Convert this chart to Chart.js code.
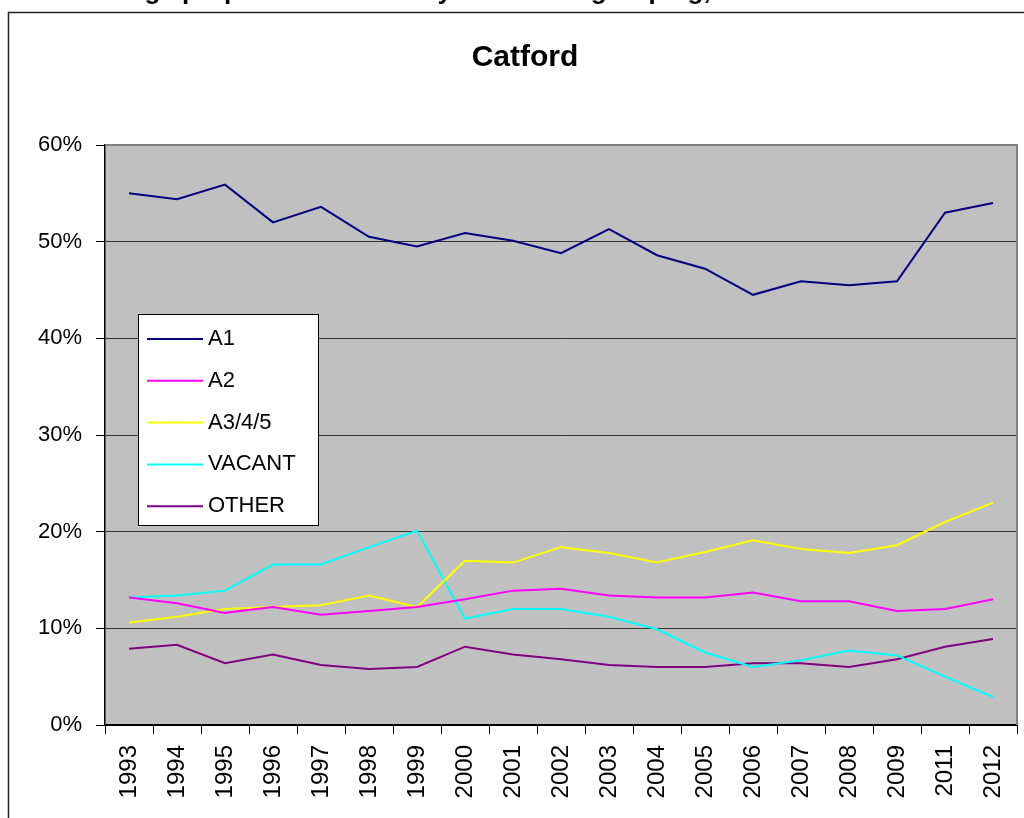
<!DOCTYPE html>
<html>
<head>
<meta charset="utf-8">
<title>Catford</title>
<script src="https://cdn.jsdelivr.net/npm/chart.js@4.4.1/dist/chart.umd.min.js"></script>
<style>
  html, body { margin: 0; padding: 0; background: #fff; }
  #chart { display: block; }
</style>
</head>
<body>
<canvas id="chart" width="1024" height="818"></canvas>
<script>
// ---- data (percent of units) ----
const years = ['1993', '1994', '1995', '1996', '1997', '1998', '1999', '2000', '2001', '2002',
  '2003', '2004', '2005', '2006', '2007', '2008', '2009', '2011', '2012'];

const a1 = [55.0, 54.4, 55.9, 52.0, 53.6, 50.5, 49.5, 50.9, 50.1, 48.8,
  51.3, 48.6, 47.2, 44.5, 45.9, 45.5, 45.9, 53.0, 54.0];
const a2 = [13.2, 12.6, 11.6, 12.2, 11.4, 11.8, 12.2, 13.0, 13.9, 14.1,
  13.4, 13.2, 13.2, 13.7, 12.8, 12.8, 11.8, 12.0, 13.0];
const a345 = [10.6, 11.2, 12.0, 12.2, 12.4, 13.4, 12.2, 17.0, 16.8, 18.4,
  17.8, 16.8, 17.9, 19.1, 18.2, 17.8, 18.6, 21.0, 23.0];
const vacant = [13.2, 13.4, 13.9, 16.6, 16.6, 18.4, 20.1, 11.0, 12.0, 12.0,
  11.2, 9.9, 7.5, 6.0, 6.7, 7.7, 7.2, 5.0, 2.9];
const other = [7.9, 8.3, 6.4, 7.3, 6.2, 5.8, 6.0, 8.1, 7.3, 6.8,
  6.2, 6.0, 6.0, 6.4, 6.4, 6.0, 6.8, 8.1, 8.9];

const seriesNames = ['A1', 'A2', 'A3/4/5', 'VACANT', 'OTHER'];
const seriesColors = ['#000080', '#FF00FF', '#FFFF00', '#00FFFF', '#800080'];
const yTicks = [0, 10, 20, 30, 40, 50, 60];

const FONT = '"Liberation Sans", Arial, Helvetica, sans-serif';

// frame, plot background, cut-off heading
const backdrop = {
  id: 'backdrop',
  beforeDraw(chart) {
    const { ctx, chartArea: a } = chart;
    ctx.save();
    ctx.fillStyle = '#fff';
    ctx.fillRect(0, 0, chart.width, chart.height);
    ctx.strokeStyle = '#222';
    ctx.lineWidth = 1.5;
    ctx.strokeRect(8.5, 12.5, chart.width + 50, chart.height + 50);
    ctx.fillStyle = '#C0C0C0';
    ctx.fillRect(a.left, a.top, a.right - a.left, a.bottom - a.top);
    // heading above the frame, mostly outside the picture
    ctx.font = 'bold 26px ' + FONT;
    ctx.fillStyle = '#000';
    ctx.textBaseline = 'alphabetic';
    const pre = 'Percentage ';
    const x0 = 182 - ctx.measureText(pre).width;
    ctx.fillText(pre + 'proportion of units by Use Class grouping, 1993-2012', x0, -1);
    ctx.restore();
  },
  afterDatasetsDraw(chart) {
    const { ctx, chartArea: a } = chart;
    ctx.save();
    // plot area border (top/right grey)
    ctx.strokeStyle = '#808080';
    ctx.lineWidth = 2;
    ctx.beginPath();
    ctx.moveTo(a.left, a.top);
    ctx.lineTo(a.right, a.top);
    ctx.lineTo(a.right, a.bottom);
    ctx.stroke();

    // legend box
    const bx = 138.5, by = 314.5, bw = 180, bh = 211;
    ctx.fillStyle = '#fff';
    ctx.fillRect(bx, by, bw, bh);
    ctx.strokeStyle = '#000';
    ctx.lineWidth = 1;
    ctx.strokeRect(bx, by, bw, bh);
    ctx.font = '22px ' + FONT;
    ctx.textBaseline = 'middle';
    ctx.textAlign = 'left';
    chart.data.datasets.forEach((ds, i) => {
      const y = 339 + i * 41.8;
      ctx.strokeStyle = ds.borderColor;
      ctx.lineWidth = 2;
      ctx.beginPath();
      ctx.moveTo(147, y);
      ctx.lineTo(203, y);
      ctx.stroke();
      ctx.fillStyle = '#000';
      ctx.fillText(ds.label, 208, y);
    });

    // chart title
    ctx.font = 'bold 30px ' + FONT;
    ctx.textAlign = 'center';
    ctx.fillText('Catford', 525, 58);
    ctx.restore();
  }
};

const datasets = [a1, a2, a345, vacant, other].map((vals, i) => ({
  label: seriesNames[i],
  data: vals,
  borderColor: seriesColors[i],
  backgroundColor: seriesColors[i],
  borderWidth: 2,
  pointRadius: 0,
  tension: 0,
  fill: false
}));

new Chart(document.getElementById('chart'), {
  type: 'line',
  data: { labels: years, datasets },
  options: {
    responsive: false,
    animation: false,
    layout: { padding: { left: 0, top: 145, right: 7, bottom: 0 } },
    plugins: {
      legend: { display: false },
      tooltip: { enabled: false }
    },
    scales: {
      x: {
        type: 'category',
        offset: true,
        afterFit(scale) {
          scale.height = 93;
          scale.paddingLeft = 0;
          scale.paddingRight = 0;
        },
        grid: {
          offset: true,
          drawOnChartArea: false,
          drawTicks: true,
          tickLength: 9,
          tickColor: '#000',
          tickWidth: 1
        },
        border: { display: true, color: '#000', width: 2 },
        ticks: {
          autoSkip: false,
          minRotation: 90,
          maxRotation: 90,
          padding: 11,
          color: '#000',
          font: { family: FONT, size: 24 }
        }
      },
      y: {
        min: 0,
        max: 60,
        afterFit(scale) {
          scale.width = 105;
          scale.paddingTop = 0;
          scale.paddingBottom = 0;
        },
        afterBuildTicks(scale) { scale.ticks = yTicks.map(v => ({ value: v })); },
        grid: {
          color: '#333',
          lineWidth: 1,
          drawTicks: true,
          tickLength: 9,
          tickColor: '#000'
        },
        border: { display: true, color: '#000', width: 1.5 },
        ticks: {
          padding: 14,
          color: '#000',
          font: { family: FONT, size: 22 },
          callback: v => v + '%'
        }
      }
    }
  },
  plugins: [backdrop]
});
</script>
</body>
</html>
